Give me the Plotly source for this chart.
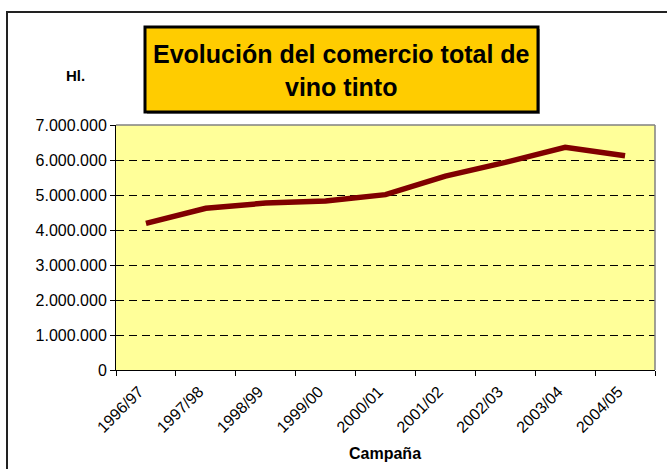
import plotly.graph_objects as go

campanas = ["1996/97", "1997/98", "1998/99", "1999/00", "2000/01",
            "2001/02", "2002/03", "2003/04", "2004/05"]
comercio_hl = [4190000, 4620000, 4770000, 4830000, 5010000,
               5540000, 5930000, 6360000, 6120000]
y_ticks = [0, 1000000, 2000000, 3000000, 4000000, 5000000, 6000000, 7000000]

W, H = 667, 469
L, R, T, B = 116, 12, 125, 99
PW, PH = W - L - R, H - T - B


def px_x(px):
    return (px - L) / PW


def px_y(py):
    return (H - B - py) / PH


fig = go.Figure(go.Scatter(
    x=campanas, y=comercio_hl,
    mode="lines",
    line=dict(color="#800000", width=5.5),
    hoverinfo="x+y",
))

fig.update_layout(
    width=W, height=H,
    margin=dict(l=L, r=R, t=T, b=B),
    paper_bgcolor="white",
    plot_bgcolor="#FFFF99",
    separators=",.",
    showlegend=False,
    font=dict(family="Liberation Sans, Arial, sans-serif", size=16, color="black"),
    xaxis=dict(
        type="category",
        range=[-0.5, len(campanas) - 0.5],
        tickson="boundaries",
        ticks="outside", ticklen=5, tickcolor="black",
        tickangle=-45,
        ticklabelshift=-7,
        ticklabelstandoff=5,
        showline=True, linecolor="black", linewidth=1,
        showgrid=False,
        tickfont=dict(size=16),
    ),
    yaxis=dict(
        range=[0, 7000000],
        tickvals=y_ticks,
        tickformat=",d",
        ticks="outside", ticklen=5, tickcolor="black",
        showline=True, linecolor="black", linewidth=1,
        showgrid=True, gridcolor="black", griddash="8px,5px", gridwidth=1,
        zeroline=False,
        tickfont=dict(size=16),
    ),
    shapes=[
        # plot area frame (top and right in grey)
        dict(type="line", xref="paper", yref="paper", x0=0, x1=1, y0=1, y1=1,
             line=dict(color="#808080", width=1.5)),
        dict(type="line", xref="paper", yref="paper", x0=1, x1=1, y0=0, y1=1,
             line=dict(color="#808080", width=1.5)),
        # outer chart border (cut off at right and bottom)
        dict(type="rect", xref="paper", yref="paper",
             x0=px_x(7), x1=px_x(W + 10), y0=px_y(H + 10), y1=px_y(12),
             line=dict(color="#222222", width=2), layer="below"),
        # title box shadow
        dict(type="rect", xref="paper", yref="paper",
             x0=px_x(147), x1=px_x(540), y0=px_y(114), y1=px_y(29),
             fillcolor="#A0A0A0", line=dict(width=0)),
        # title box
        dict(type="rect", xref="paper", yref="paper",
             x0=px_x(145), x1=px_x(538), y0=px_y(112), y1=px_y(27),
             fillcolor="#FFCC00", line=dict(color="black", width=3)),
    ],
    annotations=[
        dict(text="<b>Evolución del comercio total de<br>vino tinto</b>",
             xref="paper", yref="paper", x=px_x(341), y=px_y(70),
             xanchor="center", yanchor="middle", showarrow=False,
             font=dict(size=25, color="black")),
        dict(text="<b>Hl.</b>", xref="paper", yref="paper",
             x=px_x(75), y=px_y(75), xanchor="center", yanchor="middle",
             showarrow=False, font=dict(size=15)),
        dict(text="<b>Campaña</b>", xref="paper", yref="paper",
             x=px_x(385), y=px_y(453), xanchor="center", yanchor="middle",
             showarrow=False, font=dict(size=16)),
    ],
)

fig.write_html("out.html", config={"displayModeBar": False},
               post_script="document.body.style.margin='0';")
